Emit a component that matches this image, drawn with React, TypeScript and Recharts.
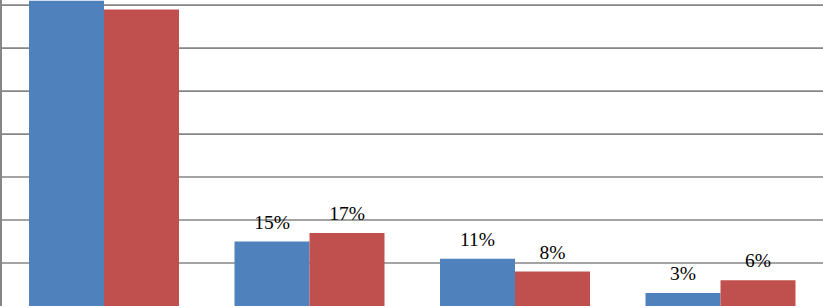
import * as React from "react";
import { BarChart, Bar, XAxis, YAxis, CartesianGrid, LabelList } from "recharts";

const categories = ["Group 1", "Group 2", "Group 3", "Group 4"];
const seriesA = [71, 15, 11, 3];
const seriesB = [69, 17, 8, 6];
// first pair's labels lie above the visible area, so they are not shown
const labelsA = ["", "15%", "11%", "3%"];
const labelsB = ["", "17%", "8%", "6%"];
const yTicks = [0, 10, 20, 30, 40, 50, 60, 70];

const BLUE = "#4f81bd";
const RED = "#c0504d";
const GRID = "#868686";

const rows = categories.map((name, i) => ({
  name,
  a: seriesA[i],
  b: seriesB[i],
  la: labelsA[i],
  lb: labelsB[i],
}));

const FONT = "Liberation Serif";

function TopLabel(props: any) {
  const { x, y, width, value } = props;
  if (!value) return null;
  return (
    <text
      x={Number(x) + Number(width) / 2}
      y={Number(y) - 13}
      textAnchor="middle"
      style={{ fontFamily: FONT, fontSize: 19.5, fill: "#000" }}
    >
      {value}
    </text>
  );
}

export default function App() {
  return (
    <div style={{ position: "fixed", top: 0, left: 0, background: "#fff" }}>
      <BarChart
        width={823}
        height={308}
        data={rows}
        margin={{ top: 0, right: 0, bottom: 2, left: 0 }}
        barCategoryGap={28}
        barGap={0}
      >
        <CartesianGrid stroke={GRID} strokeWidth={1.6} vertical={false} horizontalValues={yTicks} />
        <XAxis dataKey="name" height={0} tick={() => <g />} tickLine={false} axisLine={{ stroke: GRID, strokeWidth: 2 }} />
        <YAxis
          width={1}
          domain={[0, 71.2]}
          ticks={yTicks}
          allowDataOverflow
          tick={() => <g />}
          tickLine={false}
          axisLine={{ stroke: GRID, strokeWidth: 2 }}
        />
        <Bar dataKey="a" fill={BLUE} isAnimationActive={false}>
          <LabelList dataKey="la" content={TopLabel} />
        </Bar>
        <Bar dataKey="b" fill={RED} isAnimationActive={false}>
          <LabelList dataKey="lb" content={TopLabel} />
        </Bar>
      </BarChart>
    </div>
  );
}
